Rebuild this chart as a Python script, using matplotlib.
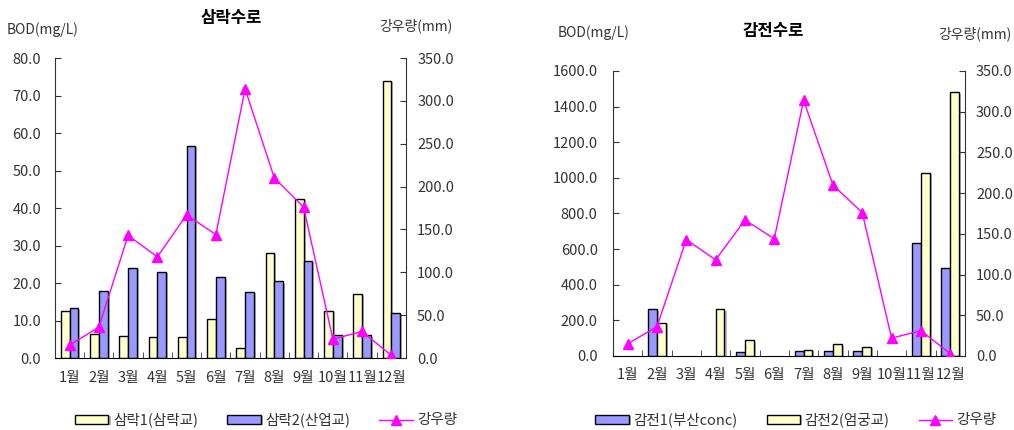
import numpy as np
import matplotlib
matplotlib.use("Agg")
import matplotlib.pyplot as plt
import matplotlib.patheffects as pe
from matplotlib.ticker import FormatStrFormatter, MultipleLocator, FixedLocator

plt.rcParams['font.family'] = ['Noto Sans CJK KR', 'DejaVu Sans']

months = ['1월', '2월', '3월', '4월', '5월', '6월', '7월', '8월', '9월', '10월', '11월', '12월']

# 강우량 (mm), shared by both panels
rain = [15, 36, 143, 118, 167, 144, 314, 210, 176, 22, 31, 3]

# 삼락수로 BOD (mg/L)
samrak1 = [12.6, 6.5, 5.8, 5.5, 5.5, 10.5, 2.6, 28.0, 42.4, 12.6, 17.2, 73.9]
samrak2 = [13.3, 18.0, 24.0, 23.0, 56.6, 21.5, 17.6, 20.5, 25.9, 6.1, 6.1, 12.1]

# 감전수로 BOD (mg/L); nan = no sample
gamjeon1 = [np.nan, 262, np.nan, np.nan, 21, np.nan, 28, 28, 28, np.nan, 633, 496]
gamjeon2 = [np.nan, 187, np.nan, 262, 88, np.nan, 36, 66, 52, np.nan, 1030, 1481]

YELLOW = '#FFFFCC'
BLUE = '#9999FF'
PINK = '#FF00FF'
AXC = '#333333'

shadow = [pe.SimplePatchShadow(offset=(1.5, -1), shadow_rgbFace='#999999', alpha=0.7), pe.Normal()]


def draw_panel(ax, first, second, c1, c2, ymax, ystep, rpad_left):
    x = np.arange(len(months))
    w = 0.3
    b1 = ax.bar(x - w / 2, first, w, color=c1, edgecolor='black', linewidth=1)
    b2 = ax.bar(x + w / 2, second, w, color=c2, edgecolor='black', linewidth=1)
    for p in list(b1) + list(b2):
        p.set_path_effects(shadow)
    ax.set_xlim(-0.5, 11.5)
    ax.set_ylim(0, ymax)
    ax.yaxis.set_major_locator(MultipleLocator(ystep))
    ax.yaxis.set_major_formatter(FormatStrFormatter('%.1f'))
    ax.set_xticks(x)
    ax.set_xticklabels(months)
    ax.xaxis.set_minor_locator(FixedLocator(np.arange(0.5, 11.5, 1)))
    ax.tick_params(axis='x', which='major', length=0, pad=9, labelsize=10.5, labelcolor=AXC)
    ax.tick_params(axis='x', which='minor', direction='in', length=4, color=AXC)
    ax.tick_params(axis='y', direction='in', length=4, color=AXC, pad=rpad_left,
                   labelsize=10.5, labelcolor=AXC)
    for s in ['top', 'right']:
        ax.spines[s].set_visible(False)
    ax.spines['left'].set_color(AXC)
    ax.spines['bottom'].set_color('black')

    ax2 = ax.twinx()
    ln, = ax2.plot(x, rain, color=PINK, linewidth=1, marker='^', markersize=7)
    ax2.set_ylim(0, 350)
    ax2.yaxis.set_major_locator(MultipleLocator(50))
    ax2.yaxis.set_major_formatter(FormatStrFormatter('%.1f'))
    ax2.tick_params(axis='y', direction='in', length=4, color=AXC, pad=8,
                    labelsize=10.5, labelcolor=AXC)
    for s in ['top', 'left', 'bottom']:
        ax2.spines[s].set_visible(False)
    ax2.spines['right'].set_color(AXC)
    return b1, b2, ln


fig = plt.figure(figsize=(10.14, 4.30), dpi=100)

ax_l = fig.add_axes([0.0542, 0.1674, 0.3462, 0.6977])
l1, l2, lr = draw_panel(ax_l, samrak1, samrak2, YELLOW, BLUE, 80, 10, 10)

ax_r = fig.add_axes([0.6045, 0.1721, 0.3471, 0.6628])
r1, r2, rr = draw_panel(ax_r, gamjeon1, gamjeon2, BLUE, YELLOW, 1600, 200, 11)

W, H = 1014.0, 430.0
fig.text(231 / W, 1 - 18 / H, '삼락수로', ha='center', va='center', fontsize=12, fontweight='bold')
fig.text(773 / W, 1 - 31 / H, '감전수로', ha='center', va='center', fontsize=12, fontweight='bold')
fig.text(7 / W, 1 - 30 / H, 'BOD(mg/L)', ha='left', va='center', fontsize=10, color=AXC)
fig.text(379 / W, 1 - 26 / H, '강우량(mm)', ha='left', va='center', fontsize=10, color=AXC)
fig.text(558 / W, 1 - 33 / H, 'BOD(mg/L)', ha='left', va='center', fontsize=10, color=AXC)
fig.text(1012 / W, 1 - 34 / H, '강우량(mm)', ha='right', va='center', fontsize=10, color=AXC)

leg_kw = dict(loc='center', ncol=3, frameon=False, fontsize=10.5, handlelength=2.3,
              handleheight=0.6, handletextpad=0.3, columnspacing=2.0, numpoints=1,
              labelcolor=AXC)
fig.legend([l1, l2, lr], ['삼락1(삼락교)', '삼락2(산업교)', '강우량'],
           bbox_to_anchor=(266 / W, 1 - 420 / H), **leg_kw)
fig.legend([r1, r2, rr], ['감전1(부산conc)', '감전2(엄궁교)', '강우량'],
           bbox_to_anchor=(796 / W, 1 - 420 / H), **leg_kw)

fig.savefig('out.png', dpi=100)
